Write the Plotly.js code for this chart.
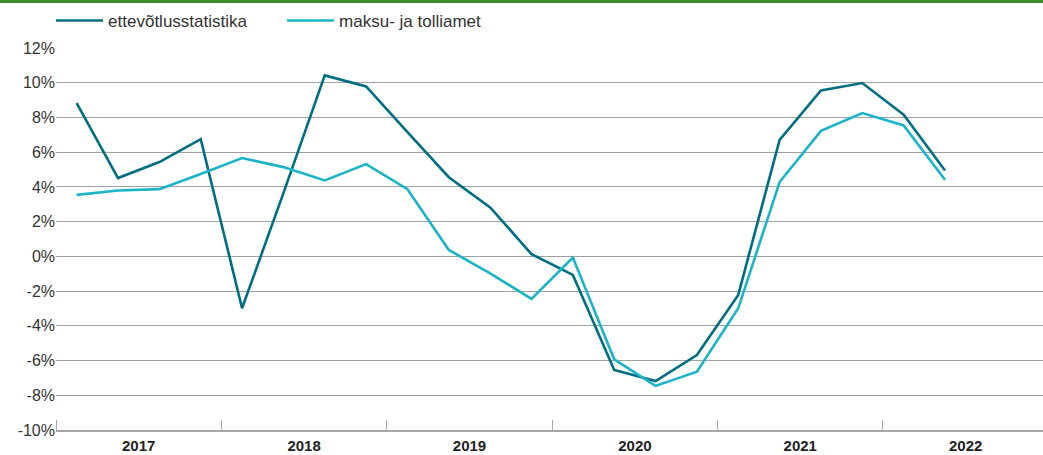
<!DOCTYPE html>
<html><head><meta charset="utf-8">
<script src="https://cdn.plot.ly/plotly-3.0.1.min.js"></script>
<style>
html,body{margin:0;padding:0;background:#fff;}
#topbar{position:absolute;left:0;top:0;width:1043px;height:3px;background:#3b8b2b;z-index:10;}
#chart{width:1043px;height:455px;}
</style>
</head><body>
<div id="topbar"></div>
<div id="chart"></div>
<script>
const quarters = ['2017Q1','2017Q2','2017Q3','2017Q4','2018Q1','2018Q2','2018Q3','2018Q4',
  '2019Q1','2019Q2','2019Q3','2019Q4','2020Q1','2020Q2','2020Q3','2020Q4',
  '2021Q1','2021Q2','2021Q3','2021Q4','2022Q1','2022Q2'];
const years = ['2017','2018','2019','2020','2021','2022'];
const ettevotlusstatistika = [8.83,4.51,5.43,6.75,-2.99,3.64,10.42,9.79,
  7.15,4.56,2.82,0.13,-1.07,-6.54,-7.18,-5.68,-2.22,6.71,9.56,9.98,8.16,4.95];
const maksuJaTolliamet = [3.54,3.79,3.87,4.74,5.66,5.14,4.37,5.31,
  3.87,0.37,-0.98,-2.45,-0.07,-5.93,-7.46,-6.64,-2.99,4.28,7.23,8.25,7.54,4.41];
const yTickVals = [-10,-8,-6,-4,-2,0,2,4,6,8,10,12];
const yTickText = ['-10%','-8%','-6%','-4%','-2%','0%','2%','4%','6%','8%','10%','12%'];

const xIdx = quarters.map((q,i)=>i);
const yearCenters = years.map((y,i)=>i*4+1.5);

const traces = [
  {x:xIdx, y:ettevotlusstatistika, type:'scatter', mode:'lines', name:'ettevõtlusstatistika',
   line:{color:'#006e82', width:2.6}},
  {x:xIdx, y:maksuJaTolliamet, type:'scatter', mode:'lines', name:'maksu- ja tolliamet',
   line:{color:'#1ab4c9', width:2.6}}
];

const layout = {
  width:1043, height:455,
  margin:{l:56, r:0, t:48, b:25},
  paper_bgcolor:'#fff', plot_bgcolor:'#fff',
  font:{family:'Liberation Sans', size:15, color:'#333'},
  showlegend:true,
  legend:{orientation:'h', x:-0.005, xanchor:'left', y:1.071, yanchor:'middle',
    font:{size:17, color:'#333'}, itemwidth:47, entrywidth:169, traceorder:'normal'},
  xaxis:{range:[-0.5,23.37], tickmode:'array', tickvals:yearCenters, ticktext:years,
    ticks:'', showgrid:false, zeroline:false, showline:true, linecolor:'#a8a8a8', linewidth:2,
    tickfont:{size:15, color:'#222', weight:'bold'}, ticklabelstandoff:1,
    minor:{tickmode:'linear', tick0:-0.5, dtick:4, ticks:'inside', ticklen:10,
      tickcolor:'#a8a8a8', tickwidth:1, showgrid:false},
    fixedrange:true},
  yaxis:{range:[-10,12], tickmode:'array', tickvals:yTickVals, ticktext:yTickText,
    ticks:'', showgrid:true, gridcolor:'#a0a0a0', gridwidth:1, zeroline:false, showline:false,
    tickfont:{size:16, color:'#333'}, ticklabelstandoff:5.5, fixedrange:true}
};

Plotly.newPlot('chart', traces, layout, {displayModeBar:false, staticPlot:true});
</script>
</body></html>
